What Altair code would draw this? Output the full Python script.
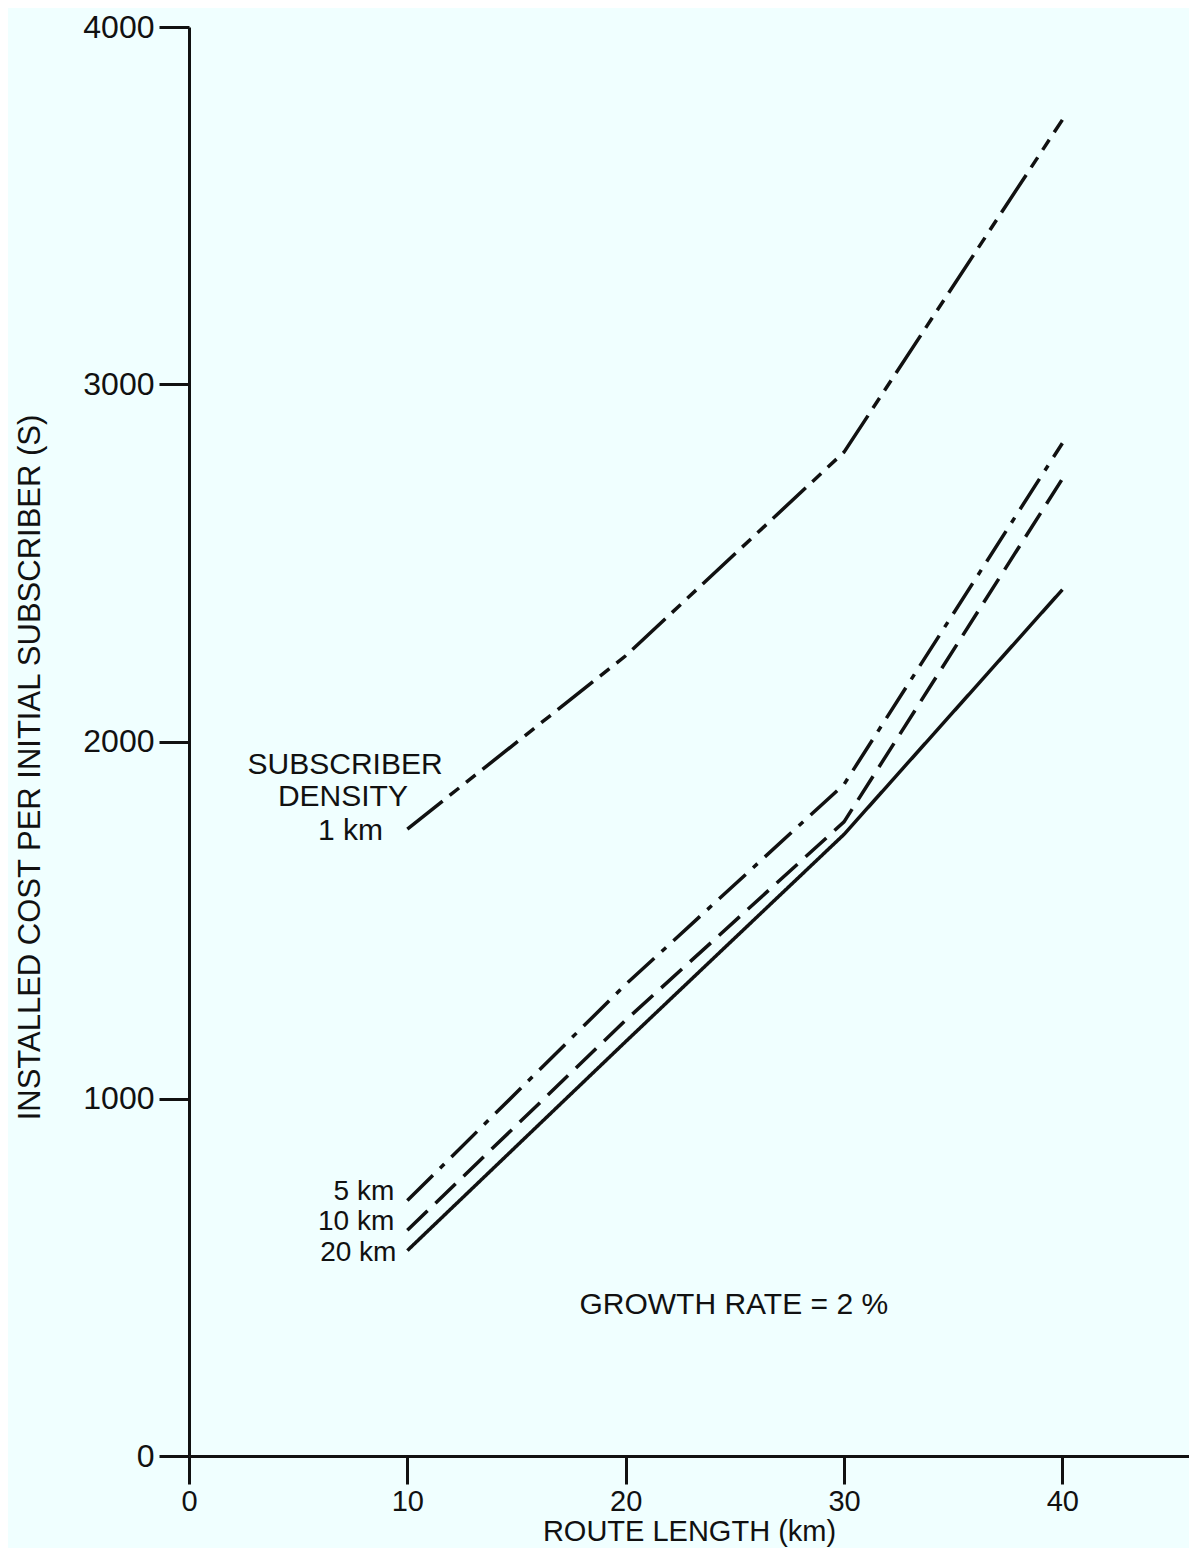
import altair as alt
import pandas as pd

# Route length (km)
route_km = [10, 20, 30, 40]

# Installed cost per initial subscriber, by subscriber density
cost_1km = [1755, 2240, 2810, 3740]
cost_5km = [715, 1320, 1880, 2835]
cost_10km = [632, 1220, 1775, 2735]
cost_20km = [575, 1160, 1740, 2425]

series_names = ["1 km", "5 km", "10 km", "20 km"]
series_values = [cost_1km, cost_5km, cost_10km, cost_20km]

x_ticks = [0, 10, 20, 30, 40]
y_ticks = [0, 1000, 2000, 3000, 4000]

# Annotations (data coordinates)
center_labels = ["SUBSCRIBER", "DENSITY", "1 km", "GROWTH RATE = 2 %"]
center_x = [7.15, 7.05, 7.4, 24.95]
center_y = [1935, 1845, 1750, 422]

right_labels = ["5 km", "10 km", "20 km"]
right_x = [9.4, 9.4, 9.5]
right_y = [740, 655, 567]

rows = []
for name, vals in zip(series_names, series_values):
    for x, v in zip(route_km, vals):
        rows.append({"series": name, "route": x, "cost": v})
df = pd.DataFrame(rows)

FONT = "Liberation Sans"
INK = "#111111"

xscale = alt.Scale(domain=[0, 45.8], nice=False, zero=False)
yscale = alt.Scale(domain=[0, 4000], nice=False)

lines = alt.Chart(df).mark_line(strokeWidth=3.5, color=INK, strokeCap="butt").encode(
    x=alt.X("route:Q", scale=xscale,
            axis=alt.Axis(values=x_ticks, format="d", title="ROUTE LENGTH (km)", grid=False,
                          tickSize=28, labelPadding=3, titlePadding=1, labelFlush=False,
                          labelFontSize=29, titleFontSize=29)),
    y=alt.Y("cost:Q", scale=yscale,
            axis=alt.Axis(values=y_ticks, format="d",
                          title="INSTALLED COST PER INITIAL SUBSCRIBER (S)",
                          grid=False, tickSize=30, labelPadding=5, labelFlush=False,
                          titleX=-143, titleY=740, titleAngle=270, titleBaseline="bottom",
                          titleAlign="center",
                          labelFontSize=32, titleFontSize=31)),
    strokeDash=alt.StrokeDash("series:N",
                              scale=alt.Scale(domain=series_names,
                                              range=[[45, 9, 12, 9, 12, 9], [36, 10, 6, 10],
                                                     [28, 11], [1, 0]]),
                              legend=None),
    detail="series:N",
)

center_df = pd.DataFrame({"t": center_labels, "x": center_x, "y": center_y})
right_df = pd.DataFrame({"t": right_labels, "x": right_x, "y": right_y})

center_text = alt.Chart(center_df).mark_text(
    align="center", baseline="middle", fontSize=30, font=FONT, color=INK
).encode(x=alt.X("x:Q", scale=xscale), y=alt.Y("y:Q", scale=yscale), text="t:N")

right_text = alt.Chart(right_df).mark_text(
    align="right", baseline="middle", fontSize=28, font=FONT, color=INK
).encode(x=alt.X("x:Q", scale=xscale), y=alt.Y("y:Q", scale=yscale), text="t:N")

chart = alt.layer(lines, center_text, right_text).properties(
    width=1000,
    height=1429,
    background="#F0FFFF",
    autosize=alt.AutoSizeParams(type="none"),
    padding={"left": 181, "top": 19, "right": 0, "bottom": 92},
).configure_view(stroke=None).configure_axis(
    domainColor=INK, domainWidth=3, tickColor=INK, tickWidth=3,
    labelColor=INK, titleColor=INK, labelFont=FONT, titleFont=FONT,
    titleFontWeight="normal",
)

chart.save("out.html", embed_options={"renderer": "svg", "actions": False})
